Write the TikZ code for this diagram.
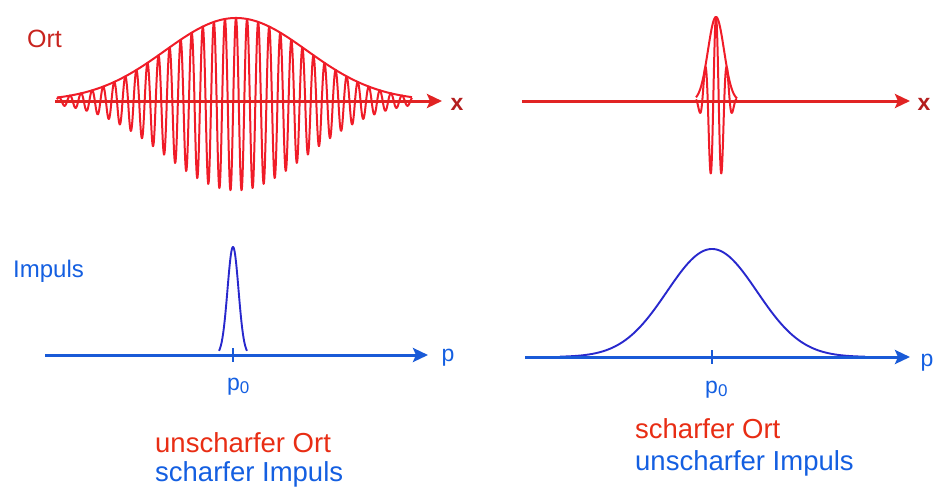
\documentclass[tikz,border=0pt]{standalone}
\usepackage{fontspec}
\setmainfont{Liberation Sans}
\usetikzlibrary{arrows.meta}
\definecolor{wavered}{RGB}{240,28,40}
\definecolor{axisred}{RGB}{225,35,35}
\definecolor{textred}{RGB}{232,45,20}
\definecolor{labelred}{RGB}{200,35,30}
\definecolor{xred}{RGB}{180,30,30}
\definecolor{axisblue}{RGB}{25,90,215}
\definecolor{curveblue}{RGB}{40,40,205}
\definecolor{textblue}{RGB}{20,95,225}
\begin{document}
\begin{tikzpicture}[x=1pt,y=-1pt,
  declare function={
    envA(\x)=exp(-0.5*((\x-236)/71)^2);
    carA(\x)=cos(32.52*(\x-236));
    envB(\x)=exp(-0.5*((\x-716)/8)^2);
    carB(\x)=cos(32.727*(\x-716));
    asym(\x)=1.04*\x-0.04*abs(\x);
    gC(\x)=exp(-0.5*((\x-233)/5.5)^2);
    gD(\x)=exp(-0.5*((\x-712)/45)^2);
  },
  wave/.style={draw=wavered,line width=2pt,line join=round},
  raxis/.style={draw=axisred,line width=3pt,-{Stealth[length=15pt,width=14pt,inset=3pt]}},
  baxis/.style={draw=axisblue,line width=3pt,-{Stealth[length=15pt,width=14pt,inset=3pt]}},
  bcurve/.style={draw=curveblue,line width=1.9pt,line join=round},
  tickmark/.style={draw=axisblue,line width=2.5pt},
  axlabel/.style={inner sep=0pt,anchor=base,font=\fontsize{23}{26}\selectfont},
  plabel/.style={inner sep=0pt,anchor=base west,text=textblue,font=\fontsize{23}{26}\selectfont},
  caption/.style={inner sep=0pt,anchor=base west,font=\fontsize{27.5}{30}\selectfont},
]
\useasboundingbox (0,0) rectangle (934,488);

% ---------- top left: broad wave packet ----------
\draw[wave] plot[domain=57:412,samples=900] (\x,{101-83*envA(\x)*asym(carA(\x))});
\draw[wave] plot[domain=57:412,samples=200] (\x,{101-83*envA(\x)});
\coordinate (a1s) at (55,101);
\coordinate (a1e) at (442,101);
\draw[raxis] (a1s) -- (a1e);
\node[axlabel,text=xred,font=\fontsize{23}{26}\selectfont\bfseries] (x1) at (457,110) {x};
\node[caption,text=labelred,font=\fontsize{25}{30}\selectfont] (ort) at (27,47) {Ort};

% ---------- top right: narrow wave packet ----------
\draw[wave] plot[domain=696:737,samples=240] (\x,{101-84*envB(\x)*asym(carB(\x))});
\draw[wave] plot[domain=696:737,samples=120] (\x,{101-84*envB(\x)});
\coordinate (a2s) at (522,101);
\coordinate (a2e) at (910,101);
\draw[raxis] (a2s) -- (a2e);
\node[axlabel,text=xred,font=\fontsize{23}{26}\selectfont\bfseries] (x2) at (924,110) {x};

% ---------- bottom left: sharp momentum ----------
\draw[bcurve] plot[domain=219:247,samples=120] (\x,{355-108*gC(\x)});
\coordinate (a3s) at (45,355);
\coordinate (a3e) at (428,355);
\draw[baxis] (a3s) -- (a3e);
\coordinate (t3a) at (233,348);
\coordinate (t3b) at (233,362);
\draw[tickmark] (t3a) -- (t3b);
\node[axlabel,text=textblue] (p1) at (448,361) {p};
\node[plabel] (p01) at (227,390) {p\raisebox{-3pt}{\fontsize{17}{20}\selectfont 0}};
\node[caption,text=textblue,font=\fontsize{24}{28}\selectfont] (imp) at (13,277) {Impuls};

% ---------- bottom right: broad momentum ----------
\draw[bcurve] plot[domain=560:865,samples=200] (\x,{357-108*gD(\x)});
\coordinate (a4s) at (525,357);
\coordinate (a4e) at (910,357);
\draw[baxis] (a4s) -- (a4e);
\coordinate (t4a) at (712,350);
\coordinate (t4b) at (712,364);
\draw[tickmark] (t4a) -- (t4b);
\node[axlabel,text=textblue] (p2) at (927,366) {p};
\node[plabel] (p02) at (705,393) {p\raisebox{-3pt}{\fontsize{17}{20}\selectfont 0}};

% ---------- captions ----------
\node[caption,text=textred] (c1) at (155,452) {unscharfer Ort};
\node[caption,text=textblue] (c2) at (155,481) {scharfer Impuls};
\node[caption,text=textred] (c3) at (635,438) {scharfer Ort};
\node[caption,text=textblue] (c4) at (635,470) {unscharfer Impuls};
\end{tikzpicture}
\end{document}
